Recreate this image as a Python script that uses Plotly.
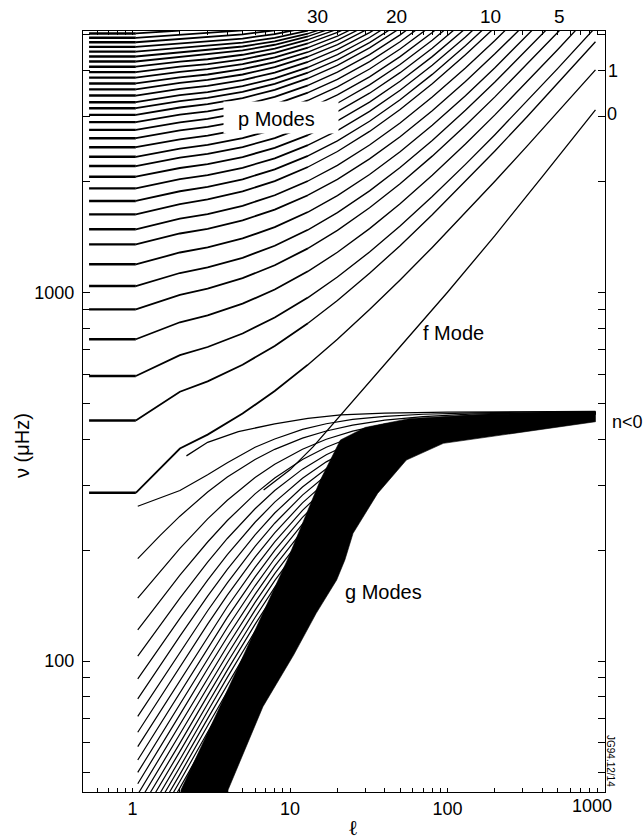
import math
import plotly.graph_objects as go

# ---------------- data ----------------
# p-mode ridges: shared degree grid, one frequency list (uHz) per ridge (n = 1, 2, ...)
P_L = [0.53, 1.05, 2, 3, 5, 8, 13, 20, 32, 50, 80, 130, 200, 320, 500, 870]
P_NU = [
    [286, 286, 377.0, 411.2, 469, 540.1, 636.5, 746, 897.7, 1080.2, 1323.4, 1643.4, 2001.1, 2490.7, 3075.6, 4009.5],
    [449, 449, 537.5, 573.5, 636.1, 715.2, 824.3, 950, 1125.6, 1338.2, 1622.4, 1997.6, 2417.6, 2993.1, 3681.2, 4780.1],
    [593, 593, 675.5, 710.6, 773.2, 854.1, 967.5, 1099.8, 1286.3, 1513.7, 1818.8, 2222.9, 2676, 3297.6, 4041.3, 5229.7],
    [746, 746, 829.3, 865.7, 931.4, 1017.5, 1139.9, 1284, 1488.5, 1739.1, 2076.6, 2524.6, 3027.6, 3718.4, 4545.4, 5867.5],
    [899, 899, 984.6, 1022.7, 1092.1, 1183.9, 1315.6, 1471.9, 1695, 1969.4, 2340.3, 2833.5, 3388, 4150.2, 5063, 6522.7],
    [1040, 1040, 1128.1, 1167.7, 1240.4, 1337.4, 1477.4, 1644.6, 1884.3, 2180.2, 2580.9, 3114.8, 3715.8, 4542.3, 5532.7],
    [1191, 1191, 1282.1, 1323.3, 1399.5, 1501.9, 1650.6, 1829.1, 2086.2, 2404.6, 2836.8, 3413.5, 4063.5, 4957.8, 6030.1],
    [1349, 1349, 1443.6, 1486.9, 1567, 1675.3, 1833.5, 2024.2, 2299.8, 2642.1, 3107.8, 3730.2, 4432.3, 5399],
    [1482, 1482, 1583.6, 1630, 1716.3, 1833, 2003.7, 2209.8, 2508, 2878.7, 3383.4, 4058.1, 4819.2, 5867.5],
    [1627, 1627, 1735.5, 1785.2, 1877.7, 2003, 2186.7, 2408.7, 2730.4, 3130.5, 3675.8, 4405.2, 5228.2],
    [1769, 1769, 1879.5, 1930.2, 2025.2, 2154.4, 2344.5, 2575, 2910.1, 3328, 3898.4, 4662.4, 5525.2],
    [1914, 1914, 2026.5, 2078.6, 2176.1, 2309.1, 2505.7, 2745.1, 3093.8, 3529.7, 4125.7, 4924.8, 5828.1],
    [2058, 2058, 2173.1, 2226.6, 2326.9, 2464.2, 2667.7, 2916.2, 3279, 3733.6, 4355.9, 5191.3],
    [2200, 2200, 2318.4, 2373.4, 2477, 2619, 2830.2, 3088.5, 3466.4, 3940.6, 4590.7, 5464],
    [2331, 2331, 2453.7, 2510.8, 2618.4, 2766.3, 2986.4, 3255.7, 3650.6, 4146.3, 4826.3, 5740.3],
    [2474, 2474, 2600.1, 2658.9, 2769.9, 2922.7, 3150.4, 3429.8, 3840, 4355.7, 5063.8, 6016.3],
    [2617, 2617, 2746.7, 2807.4, 2921.9, 3079.8, 3315.6, 3605.3, 4031.2, 4567.4, 5304.3],
    [2757, 2757, 2890.7, 2953.3, 3071.6, 3234.8, 3479, 3779.4, 4221.7, 4778.7, 5544.7],
    [2894, 2894, 3031.9, 3096.6, 3218.9, 3387.7, 3640.7, 3952.2, 4410.9, 4989.4, 5785.3],
    [3028, 3028, 3170.6, 3237.4, 3363.8, 3538.8, 3800.9, 4124, 4600.1, 5200.7],
    [3157, 3157, 3301, 3368.7, 3496.9, 3674.4, 3940.9, 4270.2, 4756, 5369.9],
    [3277, 3277, 3423.3, 3492.1, 3622.6, 3803.6, 4075.8, 4412, 4909.1, 5537.8],
    [3416, 3416, 3561.9, 3630.7, 3761.4, 3943.1, 4217.1, 4556.4, 5059.3, 5696.5],
    [3551, 3551, 3696.4, 3765.3, 3896.2, 4078.3, 4353.9, 4696, 5204.2],
    [3684, 3684, 3828, 3896.4, 4026.4, 4208, 4483.4, 4826.4, 5337],
    [3820, 3820, 3961.3, 4028.6, 4156.9, 4336.7, 4609.8, 4951.1, 5460.9],
    [3955, 3955, 4092.6, 4158.3, 4283.9, 4460.4, 4729.6, 5067.1, 5573],
    [4090, 4090, 4222.5, 4285.7, 4407.2, 4578.3, 4840.7, 5171.2],
    [4225, 4225, 4350.7, 4410.9, 4526.9, 4691, 4943.7, 5263.5],
    [4360, 4360, 4476.2, 4532, 4640.1, 4794, 5031.7, 5334.7],
    [4495, 4495, 4602.4, 4654.3, 4755, 4898.7, 5122.3],
    [4630, 4630, 4731.6, 4781.2, 4876.8, 5014.1, 5228.7],
    [4765, 4765, 4862.9, 4910.6, 5003, 5136.2],
    [4900, 4900, 4994.3, 5039.9, 5129.3],
    [5035, 5035, 5125.4],
]

# f mode (diagonal through the g-mode fan and up to the right edge)
F_L = [6.8, 10, 14, 21.4, 30, 50, 100, 200, 400, 870]
F_NU = [291, 330, 381, 470, 555, 712, 1000, 1425, 2060, 3125]

# low-degree branch starting at l = 2 and merging into the top of the g-mode band
F2_L = [2.2, 3, 4.7, 8, 13, 21, 40, 100, 870]
F2_NU = [360, 392, 419, 440, 455, 465, 470, 473, 475]

# g-mode ridges that are still visible as separate lines: shared degree grid
G_L = [1.08, 1.5, 2, 3, 4, 6, 8, 12, 17, 25, 40, 70, 150, 400, 870]
G_NU = [
    [262.9, 276.6, 290, 320, 345, 380, 400, 425, 440, 452, 461, 467, 471, 473.6, 474.3],
    [189.5, 219.2, 247.1, 287.5, 315.6, 352.2, 375.1, 402.2, 420.7, 436.3, 449.9, 460.3, 468, 472.3, 473.8],
    [148.1, 175.4, 202.1, 242.9, 273, 314.5, 341.7, 375.5, 399.5, 420.4, 439.1, 453.7, 464.8, 471.1, 473.2],
    [121.5, 146.1, 170.9, 210.3, 240.5, 284, 313.8, 352.1, 380.2, 405.7, 428.8, 447.3, 461.6, 469.9, 472.6],
    [103.1, 125.2, 148.1, 185.4, 215, 258.9, 290.1, 331.5, 362.8, 391.9, 419, 441.1, 458.5, 468.7, 472.1],
    [89.5, 109.6, 130.6, 165.8, 194.3, 237.9, 269.7, 313.1, 346.9, 379, 409.7, 435.1, 455.5, 467.4, 471.5],
    [79, 97.4, 116.8, 150, 177.3, 220, 252, 296.6, 332.3, 366.9, 400.7, 429.3, 452.4, 466.3, 470.9],
    [70.8, 87.6, 105.7, 136.9, 163, 204.7, 236.5, 281.9, 318.9, 355.6, 392.1, 423.6, 449.4, 465.1, 470.4],
    [64.1, 79.7, 96.5, 125.9, 150.9, 191.3, 222.8, 268.5, 306.6, 345, 383.9, 418, 446.5, 463.9, 469.8],
    [58.6, 73, 88.8, 116.5, 140.4, 179.6, 210.5, 256.3, 295.2, 335, 376, 412.6, 443.6, 462.7, 469.3],
    [53.9, 67.4, 82.2, 108.4, 131.3, 169.2, 199.6, 245.2, 284.5, 325.5, 368.5, 407.4, 440.7, 461.5, 468.7],
    [49.9, 62.6, 76.5, 101.4, 123.3, 160, 189.7, 235, 274.7, 316.6, 361.2, 402.2, 437.9, 460.4, 468.2],
    [46.5, 58.4, 71.6, 95.3, 116.2, 151.7, 180.8, 225.6, 265.4, 308.1, 354.2, 397.2, 435, 459.2, 467.6],
    [43.5, 54.8, 67.2, 89.8, 109.9, 144.3, 172.7, 216.9, 256.8, 300.1, 347.5, 392.3, 432.3, 458, 467],
    [40.9, 51.5, 63.4, 84.9, 104.2, 137.5, 165.2, 208.9, 248.8, 292.5],
    [38.6, 48.7, 59.9, 80.6, 99.1, 131.3, 158.4, 201.5, 241.2, 285.2],
    [36.5, 46.1, 56.9, 76.6, 94.5, 125.7, 152.1, 194.5, 234, 278.4],
    [34.6, 43.8, 54.1, 73.1, 90.3, 120.5, 146.3, 188.1, 227.3, 271.8],
    [33, 41.7, 51.6, 69.8, 86.4, 115.8, 140.9, 182, 221, 265.5],
    [31.4, 39.8, 49.3, 66.8, 82.9, 111.4, 136, 176.3, 215, 259.6],
    [30, 38.1, 47.2, 64.1, 79.6, 107.3, 131.3, 171, 209.3, 253.9],
    [28.7, 36.5, 45.3, 61.6, 76.6, 103.5, 127, 166, 203.9, 248.4],
    [27.5, 35, 43.5, 59.2, 73.8, 100, 122.9, 161.2, 198.8, 243.2],
]

# outline of the region where the high-order g-mode ridges merge (solid black)
BAND_L = [2.03, 2.03, 3.585, 9.63, 15.59, 20.9, 30, 58, 150, 870, 870, 192.4, 94.1, 54.8,
          36.0, 25.14, 22.3, 19.78, 14.66, 10.54, 6.73, 4.04, 4.04]
BAND_NU = [43.0, 44.7, 75.2, 188, 309.6, 397.6, 430, 455, 465, 472, 445.7, 406, 389.4,
           350.8, 284.9, 222, 188, 165.9, 134.7, 103.8, 75.2, 44.7, 43.0]

X_TICKS = [0.6, 0.7, 0.8, 0.9, 1, 2, 3, 4, 5, 6, 7, 8, 9, 10, 20, 30, 40, 50, 60, 70, 80, 90,
           100, 200, 300, 400, 500, 600, 700, 800, 900, 1000]
X_LABELED = {1: "1", 10: "10", 100: "100"}
Y_TICKS = [50, 60, 70, 80, 90, 100, 200, 300, 400, 500, 600, 700, 800, 900, 1000,
           2000, 3000, 4000, 5000]
Y_LABELED = {100: "100", 1000: "1000"}

TOP_LABELS = ["30", "20", "10", "5"]
TOP_LABEL_L = [14.86, 47.1, 188.8, 512]
RIGHT_LABELS = ["1", "0", "n<0"]
RIGHT_LABEL_NU = [3990, 3040, 445.7]

X_RANGE = [0.485, 1000]
Y_RANGE = [44.15, 5112]

FONT = "Liberation Sans, Arial, Helvetica, sans-serif"

# ---------------- figure ----------------
fig = go.Figure()

fig.add_trace(go.Scatter(x=BAND_L, y=BAND_NU, mode="lines", fill="toself",
                         fillcolor="black", line=dict(color="black", width=0.6),
                         hoverinfo="skip", showlegend=False))

gx, gy = [], []
for nu in G_NU:
    n = len(nu)
    gx += G_L[:n] + [None]
    gy += nu + [None]
fig.add_trace(go.Scatter(x=gx, y=gy, mode="lines", line=dict(color="black", width=1.2),
                         hoverinfo="skip", showlegend=False))

# p-mode ridges: bold flat start, medium low-degree part, thinner high-degree part
SPLIT = P_L.index(13)
flx, fly, lox, loy, hix, hiy = [], [], [], [], [], []
for nu in P_NU:
    n = len(nu)
    flx += P_L[:2] + [None]
    fly += nu[:2] + [None]
    k = min(n, SPLIT + 1)
    lox += P_L[1:k] + [None]
    loy += nu[1:k] + [None]
    if n > SPLIT:
        hix += P_L[SPLIT:n] + [None]
        hiy += nu[SPLIT:n] + [None]
fig.add_trace(go.Scatter(x=hix, y=hiy, mode="lines", line=dict(color="black", width=1.35),
                         hoverinfo="skip", showlegend=False))
fig.add_trace(go.Scatter(x=lox, y=loy, mode="lines", line=dict(color="black", width=1.8),
                         hoverinfo="skip", showlegend=False))
fig.add_trace(go.Scatter(x=flx, y=fly, mode="lines", line=dict(color="black", width=2.4),
                         hoverinfo="skip", showlegend=False))

fig.add_trace(go.Scatter(x=F_L, y=F_NU, mode="lines", line=dict(color="black", width=1.3),
                         hoverinfo="skip", showlegend=False))
fig.add_trace(go.Scatter(x=F2_L, y=F2_NU, mode="lines", line=dict(color="black", width=1.3),
                         hoverinfo="skip", showlegend=False))

W, H = 643, 839
ML, MR, MT, MB = 83, 38, 31, 47
PW, PH = W - ML - MR, H - MT - MB


def px(xp):
    return (xp - ML) / PW


def py(yp):
    return (H - MB - yp) / PH


fig.update_layout(
    width=W, height=H,
    margin=dict(l=ML, r=MR, t=MT, b=MB, pad=0),
    paper_bgcolor="white", plot_bgcolor="white",
    font=dict(family=FONT, size=18, color="black"),
    showlegend=False,
    xaxis=dict(type="log", range=[math.log10(X_RANGE[0]), math.log10(X_RANGE[1])],
               showgrid=False, zeroline=False, showline=True, linecolor="black",
               linewidth=1.3, mirror="ticks", ticks="inside", ticklen=4, tickwidth=1,
               tickcolor="black", tickvals=X_TICKS,
               ticktext=[X_LABELED.get(v, "") for v in X_TICKS],
               tickfont=dict(size=18)),
    yaxis=dict(type="log", range=[math.log10(Y_RANGE[0]), math.log10(Y_RANGE[1])],
               showgrid=False, zeroline=False, showline=True, linecolor="black",
               linewidth=1.3, mirror="ticks", ticks="inside", ticklen=7, tickwidth=1,
               tickcolor="black", tickvals=Y_TICKS, ticklabelstandoff=4,
               ticktext=[Y_LABELED.get(v, "") for v in Y_TICKS],
               tickfont=dict(size=18)),
)

# white box behind "p Modes"
fig.add_shape(type="rect", xref="paper", yref="paper",
              x0=px(223.5), x1=px(338.5), y0=py(133.5), y1=py(101.5),
              fillcolor="white", line=dict(width=0), layer="above")


def label(text, xp, yp, size=20, angle=0, family=None):
    f = dict(size=size)
    if family:
        f["family"] = family
    return dict(text=text, xref="paper", yref="paper", x=px(xp), y=py(yp),
                xanchor="center", yanchor="middle", showarrow=False,
                textangle=angle, font=f)


ann = [
    label("p Modes", 276, 119),
    label("f Mode", 453, 333),
    label("g Modes", 383.5, 591.7),
    label("1000", 592, 806.5, size=18),
    label("\u2113", 353, 828, size=21, family="DejaVu Serif"),
    label("\u03bd (\u03bcHz)", 22, 446, size=20, angle=-90),
    label("JG94.12/14", 611, 761, size=10, angle=90),
]
for t, l in zip(TOP_LABELS, TOP_LABEL_L):
    ann.append(dict(text=t, xref="x", yref="paper", x=math.log10(l), y=1,
                    xanchor="center", yanchor="bottom", yshift=2, showarrow=False,
                    font=dict(size=19)))
for t, nu, sh in zip(RIGHT_LABELS, RIGHT_LABEL_NU, [1, 0, 5]):
    ann.append(dict(text=t, xref="paper", yref="y", x=1, y=math.log10(nu),
                    xanchor="left", yanchor="middle", xshift=sh, showarrow=False,
                    font=dict(size=18)))
fig.update_layout(annotations=ann)

fig.write_html("out.html")
